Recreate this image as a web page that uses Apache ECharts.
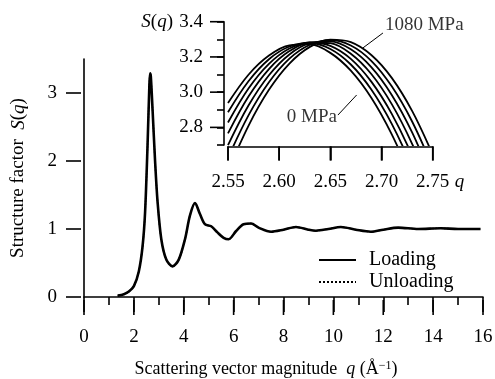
<!DOCTYPE html>
<html>
<head>
<meta charset="utf-8">
<script src="https://cdn.jsdelivr.net/npm/echarts@6/dist/echarts.min.js"></script>
<style>
  html, body { margin: 0; padding: 0; background: #fff; }
  #chart { width: 495px; height: 379px; }
</style>
</head>
<body>
<div id="chart"></div>
<script>
// Main plot: S(q)
const qMain = [1.35, 1.6, 1.8, 2.0, 2.2, 2.35, 2.45, 2.55, 2.62, 2.65, 2.68, 2.75, 2.85, 2.95, 3.1, 3.3,
  3.55, 3.8, 4.05, 4.25, 4.45, 4.65, 4.85, 5.1, 5.35, 5.6, 5.8, 6.1, 6.4, 6.7, 7.0, 7.5, 8.0, 8.5,
  9.0, 9.3, 9.8, 10.3, 10.9, 11.5, 12.0, 12.6, 13.4, 14.3, 15.0, 15.9];
const sLoading = [0.02, 0.04, 0.08, 0.16, 0.38, 0.75, 1.25, 2.25, 3.1, 3.29, 3.24, 2.75, 2.0, 1.4, 0.85, 0.55,
  0.45, 0.55, 0.85, 1.2, 1.38, 1.22, 1.07, 1.04, 0.95, 0.87, 0.85, 0.97, 1.07, 1.08, 1.02, 0.96, 0.99, 1.03,
  0.99, 0.975, 1.0, 1.03, 0.99, 0.96, 0.99, 1.02, 1.0, 1.01, 1.0, 1.0];
const sUnloading = [0.02, 0.04, 0.08, 0.16, 0.38, 0.75, 1.25, 2.25, 3.1, 3.29, 3.24, 2.75, 2.0, 1.4, 0.85, 0.55,
  0.45, 0.55, 0.85, 1.2, 1.38, 1.22, 1.07, 1.04, 0.95, 0.87, 0.85, 0.97, 1.07, 1.08, 1.02, 0.96, 0.99, 1.03,
  0.99, 0.975, 1.0, 1.03, 0.99, 0.96, 0.99, 1.02, 1.0, 1.01, 1.0, 1.0];
const mainXMajor = [0, 2, 4, 6, 8, 10, 12, 14, 16];
const mainYTicks = [0, 1, 2, 3];

// Inset: first peak for each pressure
const qInset = [2.55, 2.57, 2.59, 2.61, 2.63, 2.65, 2.67, 2.69, 2.71, 2.73, 2.75];
const pressures = ['0 MPa', '180 MPa', '360 MPa', '540 MPa', '720 MPa', '900 MPa', '1080 MPa'];
const sInset = [
  [2.938, 3.099, 3.208, 3.266, 3.271, 3.223, 3.122, 2.968, 2.760, 2.499, 2.186],
  [2.886, 3.062, 3.187, 3.259, 3.279, 3.245, 3.157, 3.015, 2.820, 2.570, 2.266],
  [2.828, 3.021, 3.161, 3.248, 3.282, 3.263, 3.189, 3.060, 2.877, 2.638, 2.345],
  [2.766, 2.975, 3.131, 3.233, 3.282, 3.278, 3.218, 3.103, 2.932, 2.705, 2.423],
  [2.699, 2.924, 3.096, 3.214, 3.278, 3.288, 3.243, 3.142, 2.984, 2.770, 2.499],
  [2.627, 2.868, 3.056, 3.190, 3.269, 3.295, 3.265, 3.178, 3.033, 2.832, 2.573],
  [2.550, 2.809, 3.013, 3.162, 3.257, 3.298, 3.284, 3.211, 3.081, 2.892, 2.646]
];
const insetXTicks = [2.55, 2.60, 2.65, 2.70, 2.75];
const insetYMajor = [2.8, 3.0, 3.2, 3.4];

// pointer lines and their labels (data units of the inset)
const pointer0 = [[2.6574, 2.87], [2.6757, 2.984]];
const pointer1080 = [[2.6818, 3.251], [2.7014, 3.336]];

const FONT = 'Liberation Serif';
const BLACK = '#000';
const pairs = (xs, ys) => xs.map((x, i) => [x, ys[i]]);

const txt = { fontFamily: FONT, fontSize: 19, color: BLACK };
const stroke = () => ({ color: BLACK, width: 1.6 });

// Long axis ticks at the labelled values don't get drawn by the axes here,
// so they come from a small custom series placed through the axis scales.
function tickSeries(xAxisIndex, yAxisIndex, values, dir, base, gap, length) {
  return {
    type: 'custom', coordinateSystem: 'cartesian2d', xAxisIndex, yAxisIndex,
    silent: true, clip: false, z: 10,
    data: values.map(v => [v]),
    renderItem: (params, api) => {
      const v = api.value(0);
      const style = { stroke: BLACK, lineWidth: 1.6, fill: null };
      if (dir === 'x') {
        const p = api.coord([v, base]);
        return { type: 'line', shape: { x1: p[0], y1: p[1] + gap, x2: p[0], y2: p[1] + gap + length }, style };
      }
      const p = api.coord([base, v]);
      return { type: 'line', shape: { x1: p[0] - gap, y1: p[1], x2: p[0] - gap - length, y2: p[1] }, style };
    }
  };
}

const chart = echarts.init(document.getElementById('chart'));

chart.setOption({
  animation: false,
  backgroundColor: '#fff',
  grid: [
    { left: 84, top: 59, width: 399, height: 238, containLabel: false, outerBoundsMode: 'none' },
    { left: 228, top: 21.7, width: 204.7, height: 123.3, containLabel: false, outerBoundsMode: 'none' }
  ],
  legend: {
    data: ['Loading', 'Unloading'],
    orient: 'vertical',
    left: 318,
    top: 250,
    padding: 0,
    itemWidth: 37,
    itemHeight: 12,
    itemGap: 2,
    itemStyle: { opacity: 0 },
    textStyle: { fontFamily: FONT, fontSize: 20, color: BLACK, padding: [0, 0, 0, 8] }
  },
  xAxis: [
    {
      gridIndex: 0, type: 'value', min: 0, max: 16, interval: 2, offset: 3,
      axisLine: { show: true, lineStyle: stroke() },
      axisTick: { show: true, length: 15, lineStyle: stroke() },
      minorTick: { show: true, splitNumber: 2, length: 8, lineStyle: stroke() },
      axisLabel: { margin: 28, ...txt },
      splitLine: { show: false },
      name: '{n|Scattering vector magnitude  }{i|q}{n| (Å}{s|−1}{n|)}',
      nameLocation: 'middle',
      nameGap: 60,
      nameMoveOverlap: false,
      nameTextStyle: {
        padding: [0, 35, 0, 0],
        rich: {
          n: { ...txt, fontSize: 18 },
          i: { ...txt, fontSize: 18, fontStyle: 'italic' },
          s: { fontFamily: FONT, fontSize: 12, color: BLACK, verticalAlign: 'top' }
        }
      }
    },
    {
      gridIndex: 1, type: 'value', min: 2.55, max: 2.75, interval: 0.05, offset: 1.5,
      axisLine: { show: true, lineStyle: stroke() },
      axisTick: { show: true, length: 14, lineStyle: stroke() },
      axisLabel: { margin: 26, formatter: v => v.toFixed(2), ...txt },
      splitLine: { show: false },
      name: '{q|q}',
      nameLocation: 'end',
      nameGap: 22,
      nameMoveOverlap: false,
      nameTextStyle: {
        rich: { q: { ...txt, fontStyle: 'italic', padding: [71, 0, 0, 0] } }
      }
    }
  ],
  yAxis: [
    {
      gridIndex: 0, type: 'value', min: 0, max: 3.5, offset: 3,
      axisLine: { show: true, lineStyle: stroke() },
      axisTick: { show: false },
      axisLabel: { customValues: mainYTicks.slice(), margin: 24, ...txt },
      splitLine: { show: false },
      name: '{n|Structure factor  }{i|S}{n|(}{i|q}{n|)}',
      nameLocation: 'middle',
      nameGap: 53,
      nameMoveOverlap: false,
      nameTextStyle: {
        rich: { n: { ...txt }, i: { ...txt, fontStyle: 'italic' } }
      }
    },
    {
      gridIndex: 1, type: 'value', min: 2.7, max: 3.4, interval: 0.1, offset: 4,
      axisLine: { show: true, lineStyle: stroke() },
      axisTick: { show: true, length: 7, lineStyle: stroke() },
      axisLabel: {
        margin: 21, ...txt,
        formatter: v => (Math.round(v * 10) % 2 === 0 ? v.toFixed(1) : '')
      },
      splitLine: { show: false },
      name: '{i|S}{n|(}{i|q}{n|)}',
      nameLocation: 'end',
      nameGap: 0,
      nameMoveOverlap: false,
      nameTextStyle: {
        align: 'right', verticalAlign: 'middle', padding: [0, 51, 0, 0],
        rich: { n: { ...txt }, i: { ...txt, fontStyle: 'italic' } }
      }
    }
  ],
  series: [
    {
      name: 'Unloading', type: 'line', xAxisIndex: 0, yAxisIndex: 0,
      data: pairs(qMain, sUnloading), symbol: 'none', smooth: 0.3, z: 2,
      lineStyle: { color: BLACK, width: 1.5, type: 'dotted' }, itemStyle: { color: BLACK }
    },
    {
      name: 'Loading', type: 'line', xAxisIndex: 0, yAxisIndex: 0,
      data: pairs(qMain, sLoading), symbol: 'none', smooth: 0.3, z: 3,
      lineStyle: { color: BLACK, width: 2.6 }, itemStyle: { color: BLACK }
    },
    ...sInset.map((s, i) => ({
      name: pressures[i], type: 'line', xAxisIndex: 1, yAxisIndex: 1,
      data: pairs(qInset, s), symbol: 'none', smooth: 0.35, clip: true,
      lineStyle: { color: BLACK, width: 1.8 },
      markLine: (i === 0 || i === sInset.length - 1) ? {
        silent: true, symbol: ['none', 'none'], animation: false,
        lineStyle: { color: BLACK, width: 1, type: 'solid' },
        label: { show: false },
        data: [[{ coord: (i === 0 ? pointer0 : pointer1080)[0] }, { coord: (i === 0 ? pointer0 : pointer1080)[1] }]]
      } : undefined
    })),
    {
      name: 'labels', type: 'scatter', xAxisIndex: 1, yAxisIndex: 1,
      symbolSize: 0, silent: true,
      data: [
        { value: pointer0[0], label: { show: true, position: 'left', distance: 1, formatter: '0 MPa', offset: [0, 2], ...txt } },
        { value: pointer1080[1], label: { show: true, position: 'right', distance: 2, formatter: '1080 MPa', offset: [0, -8], ...txt } }
      ]
    },
    tickSeries(0, 0, mainXMajor, 'x', 0, 3, 15),
    tickSeries(0, 0, mainYTicks, 'y', 0, 3, 15),
    tickSeries(1, 1, insetXTicks, 'x', 2.7, 1.5, 14),
    tickSeries(1, 1, insetYMajor, 'y', 2.55, 4, 14)
  ]
});
</script>
</body>
</html>
